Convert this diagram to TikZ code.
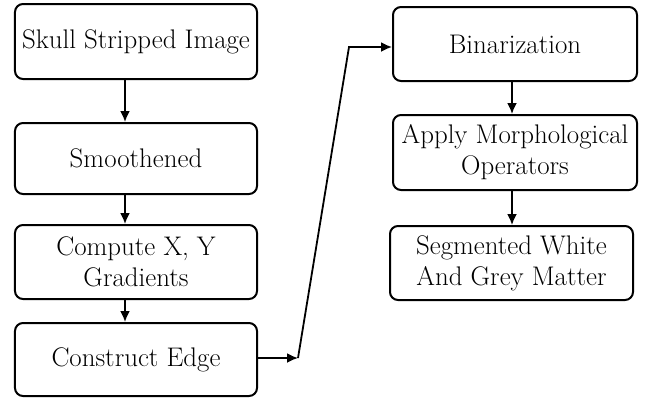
\documentclass[tikz,border=0pt]{standalone}
\usetikzlibrary{arrows.meta}
\begin{document}
\begin{tikzpicture}[x=1bp,y=-1bp,
  box/.style={draw, line width=2bp, rounded corners=8bp, align=center, inner sep=0pt,
    font=\fontsize{27}{31}\selectfont},
  arr/.style={line width=1.8bp, -{Latex[length=11bp,width=10bp]}},
  ln/.style={line width=1.8bp}]
\useasboundingbox (0,0) rectangle (648,400);
\node[box, minimum width=242bp, minimum height=75bp] (a) at (136,41.5) {Skull Stripped Image};
\node[box, minimum width=242bp, minimum height=71bp] (b) at (136,158.5) {Smoothened};
\node[box, minimum width=242bp, minimum height=74bp] (c) at (136,262) {Compute X, Y\\Gradients};
\node[box, minimum width=242bp, minimum height=73bp] (d) at (136,359.5) {Construct Edge};
\node[box, minimum width=244bp, minimum height=74bp] (e) at (515,44) {Binarization};
\node[box, minimum width=244bp, minimum height=75bp] (f) at (515,152.5) {Apply Morphological\\Operators};
\node[box, minimum width=243bp, minimum height=74bp] (g) at (511.5,263) {Segmented White\\And Grey Matter};
\coordinate (lx) at (125,0);
\coordinate (rx) at (512,0);
\coordinate (m1) at (298,358);
\coordinate (m2) at (349,47);
\draw[arr] (a.south -| lx) -- (b.north -| lx);
\draw[arr] (b.south -| lx) -- (c.north -| lx);
\draw[arr] (c.south -| lx) -- (d.north -| lx);
\draw[arr] (e.south -| rx) -- (f.north -| rx);
\draw[arr] (f.south -| rx) -- (g.north -| rx);
\draw[arr] (d.east |- m1) -- (m1);
\draw[arr] (m1) -- (m2) -- (e.west |- m2);
\end{tikzpicture}
\end{document}
